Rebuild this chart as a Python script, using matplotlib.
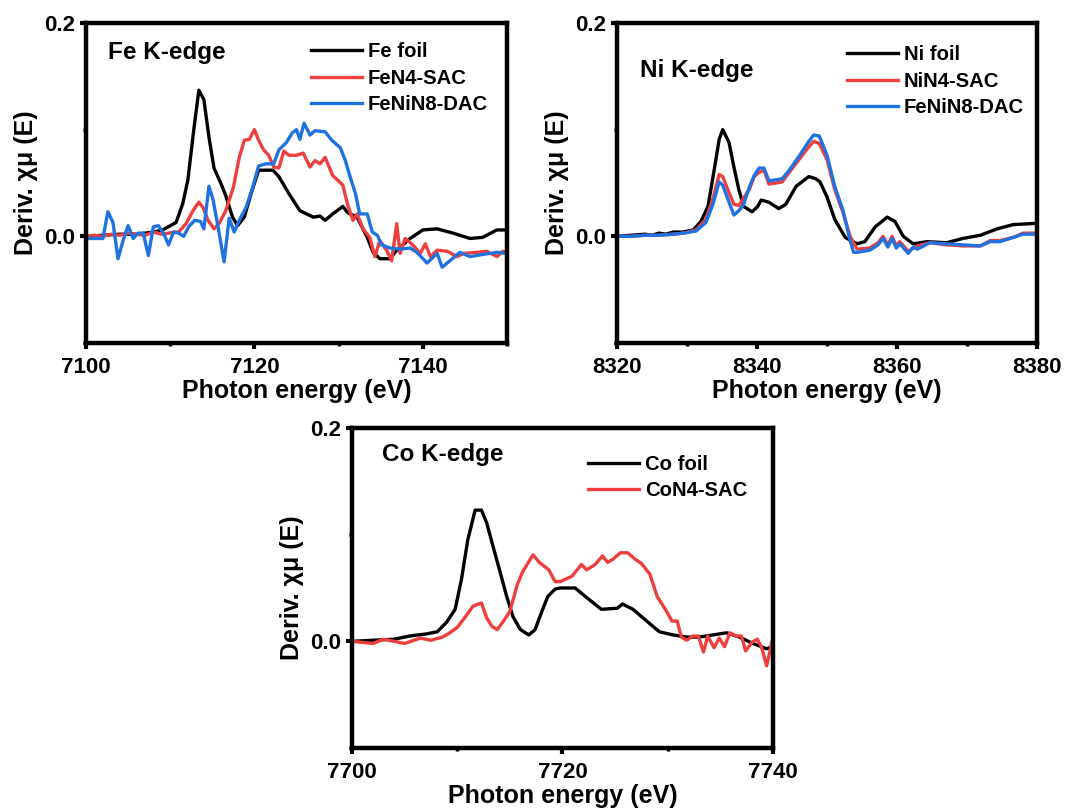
import matplotlib
matplotlib.use("Agg")
import matplotlib.pyplot as plt
from matplotlib.ticker import MultipleLocator, FormatStrFormatter

plt.rcParams["font.family"] = ["Liberation Sans", "DejaVu Sans"]
plt.rcParams["font.weight"] = "bold"

RED = "#ef3e3e"
BLUE = "#1f72e0"

# ---- Fe K-edge ----
fe_foil_x = [7100, 7102, 7104, 7106, 7107, 7108, 7109.1, 7110.7, 7111.5, 7112.1, 7112.8, 7113.4,
             7114.0, 7114.6, 7115.2, 7116.0, 7116.6, 7117.4, 7118.0, 7118.8, 7119.6, 7120.5,
             7122.2, 7122.9, 7124.1, 7125.4, 7127.0, 7127.8, 7128.4, 7129.3, 7130.5, 7131.1,
             7132.2, 7133.4, 7134.1, 7134.9, 7136.1, 7136.9, 7138.5, 7140.0, 7141.7, 7143.6,
             7145.6, 7147.1, 7148.8, 7150]
fe_foil_y = [0.0, 0.001, 0.002, 0.002, 0.003, 0.004, 0.006, 0.013, 0.031, 0.053, 0.100, 0.137,
             0.128, 0.093, 0.064, 0.050, 0.038, 0.018, 0.010, 0.018, 0.040, 0.062,
             0.062, 0.056, 0.040, 0.024, 0.018, 0.019, 0.015, 0.021, 0.028, 0.022,
             0.018, -0.001, -0.015, -0.021, -0.021, -0.013, -0.002, 0.006, 0.007, 0.003,
             -0.002, -0.001, 0.006, 0.006]

fe_sac_x = [7100, 7101, 7102, 7103, 7104, 7105, 7106, 7107, 7108, 7109, 7109.8, 7110.5, 7111.0,
            7111.9, 7112.7, 7113.4, 7113.9, 7114.5, 7115.2, 7115.8, 7116.6, 7117.5, 7118.2,
            7118.8, 7119.4, 7120.0, 7120.5, 7121.1, 7121.7, 7122.3, 7122.9, 7123.5, 7124.1,
            7125.0, 7125.8, 7126.6, 7127.2, 7127.8, 7128.4, 7129.3, 7130.5, 7131.1, 7131.7,
            7132.2, 7132.9, 7133.7, 7134.3, 7134.9, 7135.7, 7136.3, 7136.9, 7137.3, 7137.9,
            7138.8, 7139.7, 7140.3, 7140.9, 7141.7, 7142.9, 7144.1, 7144.8, 7146.4, 7147.6,
            7148.8, 7149.5, 7150]
fe_sac_y = [0.000, 0.001, 0.000, 0.002, 0.001, 0.003, 0.002, 0.001, 0.004, 0.002, 0.003, 0.004, 0.004,
            0.012, 0.024, 0.032, 0.027, 0.015, 0.007, 0.012, 0.024, 0.046, 0.074,
            0.090, 0.091, 0.100, 0.090, 0.081, 0.076, 0.065, 0.064, 0.080, 0.076,
            0.076, 0.078, 0.065, 0.071, 0.068, 0.074, 0.057, 0.048, 0.029, 0.015,
            0.021, 0.007, -0.001, -0.019, -0.004, -0.013, -0.023, 0.012, -0.016, -0.002,
            -0.008, -0.016, -0.007, -0.019, -0.013, -0.014, -0.019, -0.016, -0.015, -0.014,
            -0.019, -0.014, -0.015]

fe_dac_x = [7100, 7102.0, 7102.6, 7103.2, 7103.8, 7104.4, 7105.0, 7105.6, 7106.2, 7106.8, 7107.4,
            7108.0, 7108.6, 7109.2, 7109.8, 7110.4, 7111.0, 7111.6, 7112.2, 7112.9, 7113.6,
            7114.0, 7114.6, 7115.1, 7115.7, 7116.4, 7117.0, 7117.6, 7118.2, 7119.0, 7119.8,
            7120.5, 7121.4, 7122.3, 7122.9, 7123.8, 7124.5, 7125.0, 7125.4, 7125.9, 7126.6,
            7127.2, 7128.4, 7129.2, 7130.2, 7130.8, 7131.4, 7132.0, 7132.5, 7133.4, 7134.0,
            7134.6, 7135.1, 7136.1, 7137.3, 7138.5, 7139.3, 7140.5, 7141.7, 7142.3, 7143.2,
            7144.4, 7145.6, 7147.1, 7148.8, 7150]
fe_dac_y = [-0.002, -0.002, 0.023, 0.013, -0.021, -0.004, 0.010, -0.002, 0.003, 0.003, -0.018,
            0.009, 0.010, 0.003, -0.008, 0.004, 0.003, 0.000, 0.009, 0.015, 0.014,
            0.007, 0.047, 0.034, 0.008, -0.024, 0.017, 0.004, 0.015, 0.027, 0.046,
            0.066, 0.068, 0.068, 0.081, 0.088, 0.097, 0.100, 0.091, 0.106, 0.095,
            0.099, 0.098, 0.090, 0.083, 0.071, 0.055, 0.040, 0.021, 0.021, 0.004,
            0.001, -0.008, -0.011, -0.012, -0.011, -0.015, -0.025, -0.016, -0.029, -0.023,
            -0.015, -0.019, -0.017, -0.015, -0.016]

# ---- Ni K-edge ----
ni_foil_x = [8320, 8322, 8324, 8325, 8326, 8327, 8328, 8329.4, 8330.9, 8332.0, 8333.0, 8333.9,
             8334.6, 8335.1, 8336.0, 8336.7, 8337.4, 8338.1, 8339.3, 8340.1, 8340.6, 8341.7,
             8343.1, 8344.1, 8345.6, 8347.4, 8348.4, 8349.0, 8350.0, 8351.1, 8352.6, 8354.3,
             8355.4, 8356.9, 8358.6, 8359.7, 8360.9, 8362.3, 8364.3, 8367.1, 8369.4, 8371.9,
             8374.3, 8376.6, 8379.4, 8380]
ni_foil_y = [0.000, 0.001, 0.002, 0.001, 0.003, 0.002, 0.004, 0.004, 0.006, 0.014, 0.028, 0.063,
             0.091, 0.100, 0.088, 0.065, 0.044, 0.028, 0.023, 0.028, 0.034, 0.032,
             0.026, 0.030, 0.047, 0.056, 0.054, 0.051, 0.037, 0.016, -0.001, -0.007,
             -0.005, 0.009, 0.018, 0.014, 0.000, -0.007, -0.005, -0.006, -0.002, 0.001,
             0.007, 0.011, 0.012, 0.012]

ni_sac_x = [8320, 8322, 8324, 8326, 8328, 8329.5, 8331.3, 8332.7, 8333.7, 8334.6, 8335.1, 8336.0,
            8336.7, 8337.4, 8338.1, 8338.9, 8339.6, 8340.3, 8341.0, 8341.7, 8342.7, 8343.6,
            8344.6, 8346.0, 8347.3, 8348.1, 8348.9, 8350.0, 8351.1, 8352.3, 8353.3, 8354.3,
            8356.1, 8357.3, 8358.0, 8358.7, 8359.3, 8359.9, 8360.4, 8361.6, 8362.9, 8364.7,
            8367.1, 8369.4, 8371.9, 8373.3, 8374.7, 8376.6, 8378.0, 8380]
ni_sac_y = [0.000, 0.000, 0.001, 0.001, 0.002, 0.003, 0.006, 0.016, 0.035, 0.058, 0.056, 0.041,
            0.030, 0.029, 0.036, 0.044, 0.056, 0.060, 0.062, 0.049, 0.050, 0.051,
            0.060, 0.072, 0.083, 0.089, 0.087, 0.072, 0.044, 0.022, 0.000, -0.012,
            -0.011, -0.006, 0.000, -0.008, 0.000, -0.009, -0.005, -0.014, -0.009, -0.006,
            -0.008, -0.009, -0.009, -0.004, -0.004, -0.001, 0.003, 0.003]

ni_dac_x = [8320, 8322, 8324, 8326, 8328, 8329.5, 8331.3, 8332.7, 8333.7, 8334.6, 8335.1, 8336.0,
            8336.7, 8337.4, 8338.1, 8338.9, 8339.6, 8340.3, 8341.0, 8341.7, 8342.7, 8343.6,
            8344.6, 8346.0, 8347.3, 8348.1, 8348.9, 8350.0, 8351.1, 8352.3, 8353.3, 8353.8,
            8354.3, 8356.1, 8357.3, 8358.0, 8358.7, 8359.3, 8359.9, 8360.4, 8361.6, 8362.3,
            8362.9, 8364.7, 8367.1, 8369.4, 8371.9, 8373.3, 8374.7, 8376.6, 8378.0, 8380]
ni_dac_y = [0.000, 0.000, 0.001, 0.001, 0.002, 0.003, 0.005, 0.013, 0.030, 0.051, 0.048, 0.032,
            0.020, 0.024, 0.030, 0.046, 0.057, 0.064, 0.064, 0.052, 0.053, 0.054,
            0.062, 0.075, 0.088, 0.095, 0.094, 0.076, 0.047, 0.024, -0.004, -0.015,
            -0.015, -0.013, -0.008, -0.002, -0.010, -0.002, -0.011, -0.007, -0.016, -0.010,
            -0.012, -0.006, -0.007, -0.008, -0.009, -0.005, -0.005, -0.001, 0.002, 0.002]

# ---- Co K-edge ----
co_foil_x = [7700, 7702, 7704, 7705.5, 7707.1, 7708.1, 7709.0, 7709.8, 7710.4, 7711.0, 7711.7,
             7712.3, 7712.8, 7713.4, 7714.1, 7714.7, 7715.3, 7716.0, 7716.8, 7717.4, 7718.0,
             7718.6, 7719.3, 7719.8, 7721.2, 7722.3, 7723.7, 7725.2, 7725.7, 7726.7, 7728.0,
             7729.2, 7730.5, 7731.8, 7733.0, 7734.3, 7735.6, 7736.8, 7738.1, 7739.4, 7740]
co_foil_y = [0.000, 0.001, 0.002, 0.005, 0.007, 0.009, 0.018, 0.030, 0.058, 0.095, 0.123,
             0.123, 0.111, 0.089, 0.064, 0.042, 0.023, 0.011, 0.006, 0.011, 0.027,
             0.042, 0.049, 0.050, 0.050, 0.041, 0.030, 0.031, 0.035, 0.030, 0.019,
             0.009, 0.006, 0.004, 0.004, 0.006, 0.008, 0.004, -0.002, -0.007, -0.005]

co_sac_x = [7700, 7702, 7703, 7705, 7706.5, 7707.5, 7708.6, 7709.3, 7710.0, 7710.7, 7711.5,
            7712.3, 7712.8, 7713.3, 7713.8, 7714.4, 7715.0, 7715.7, 7716.2, 7717.2, 7717.8,
            7718.7, 7719.3, 7719.8, 7720.9, 7721.8, 7722.3, 7723.1, 7723.8, 7724.3, 7724.8,
            7725.5, 7726.2, 7726.9, 7727.5, 7728.3, 7729.0, 7729.9, 7730.4, 7730.9, 7731.3,
            7731.8, 7732.4, 7732.9, 7733.4, 7733.8, 7734.4, 7734.9, 7735.4, 7735.9, 7736.5,
            7737.0, 7737.4, 7738.0, 7738.5, 7738.9, 7739.4, 7739.9]
co_sac_y = [0.000, -0.002, 0.002, -0.002, 0.003, 0.001, 0.004, 0.008, 0.013, 0.022, 0.033,
            0.036, 0.022, 0.014, 0.011, 0.019, 0.028, 0.053, 0.065, 0.081, 0.074,
            0.067, 0.056, 0.056, 0.061, 0.072, 0.067, 0.072, 0.080, 0.074, 0.077,
            0.083, 0.083, 0.077, 0.073, 0.063, 0.042, 0.028, 0.019, 0.019, 0.004,
            0.001, 0.005, 0.005, -0.010, 0.005, -0.006, 0.003, -0.005, 0.008, 0.005,
            0.005, -0.009, -0.001, 0.002, -0.005, -0.023, -0.001]

panels = [
    {"rect": [0.0807, 0.5760, 0.3949, 0.3956], "xlim": (7100, 7150), "title": "Fe K-edge",
     "tpos": (0.052, 0.909), "lpos": (0.535, 0.939),
     "series": [(fe_foil_x, fe_foil_y, "black", "Fe foil"),
                (fe_sac_x, fe_sac_y, RED, "FeN4-SAC"),
                (fe_dac_x, fe_dac_y, BLUE, "FeNiN8-DAC")]},
    {"rect": [0.5788, 0.5760, 0.3940, 0.3956], "xlim": (8320, 8380), "title": "Ni K-edge",
     "tpos": (0.055, 0.853), "lpos": (0.548, 0.930),
     "series": [(ni_foil_x, ni_foil_y, "black", "Ni foil"),
                (ni_sac_x, ni_sac_y, RED, "NiN4-SAC"),
                (ni_dac_x, ni_dac_y, BLUE, "FeNiN8-DAC")]},
    {"rect": [0.3302, 0.0754, 0.3949, 0.3956], "xlim": (7700, 7740), "title": "Co K-edge",
     "tpos": (0.071, 0.916), "lpos": (0.561, 0.915),
     "series": [(co_foil_x, co_foil_y, "black", "Co foil"),
                (co_sac_x, co_sac_y, RED, "CoN4-SAC")]},
]

fig = plt.figure(figsize=(10.66, 8.09), dpi=100)

for p in panels:
    ax = fig.add_axes(p["rect"])
    for x, y, c, lab in p["series"]:
        ax.plot(x, y, color=c, lw=2.4, label=lab)
    ax.set_xlim(*p["xlim"])
    ax.set_ylim(-0.1, 0.2)
    ax.xaxis.set_major_locator(MultipleLocator(20))
    ax.xaxis.set_minor_locator(MultipleLocator(10))
    ax.yaxis.set_major_locator(MultipleLocator(0.2))
    ax.yaxis.set_minor_locator(MultipleLocator(0.1))
    ax.yaxis.set_major_formatter(FormatStrFormatter("%.1f"))
    for s in ax.spines.values():
        s.set_linewidth(3.2)
    ax.tick_params(which="major", direction="out", length=4, width=3, labelsize=16)
    ax.tick_params(which="minor", direction="out", length=2, width=2.5)
    ax.tick_params(axis="x", which="major", pad=6)
    ax.tick_params(axis="y", which="major", pad=4)
    ax.set_xlabel("Photon energy (eV)", fontsize=18, fontweight="bold", labelpad=1)
    ax.set_ylabel("Deriv. χμ (E)", fontsize=18, fontweight="bold", labelpad=4)
    ax.text(p["tpos"][0], p["tpos"][1], p["title"], transform=ax.transAxes,
            fontsize=17.5, fontweight="bold", va="center", ha="left")
    ax.legend(loc="upper left", bbox_to_anchor=p["lpos"], frameon=False, fontsize=14.6,
              handlelength=2.5, handletextpad=0.3, labelspacing=0.36, borderaxespad=0,
              borderpad=0)

fig.savefig("out.png", dpi=100)
